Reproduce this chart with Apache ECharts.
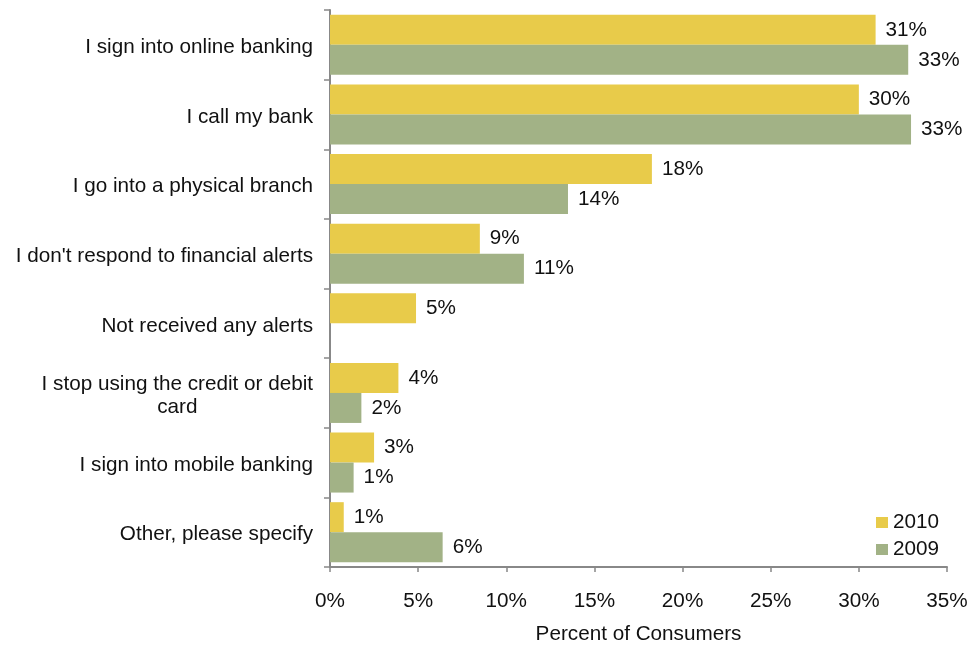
<!DOCTYPE html>
<html>
<head>
<meta charset="utf-8">
<script src="https://cdn.jsdelivr.net/npm/echarts@6/dist/echarts.min.js"></script>
<style>
  html, body { margin: 0; padding: 0; background: #fff; }
  #chart { width: 969px; height: 645px; }
</style>
</head>
<body>
<div id="chart"></div>
<script>
// Responses to a suspicious-activity alert, share of consumers by year
const categories = [
  'I sign into online banking',
  'I call my bank',
  'I go into a physical branch',
  "I don't respond to financial alerts",
  'Not received any alerts',
  'I stop using the credit or debit\ncard',
  'I sign into mobile banking',
  'Other, please specify'
];
const values2010 = [30.95, 30.0, 18.26, 8.5, 4.88, 3.88, 2.5, 0.78];
const values2009 = [32.8, 32.96, 13.5, 11.0, null, 1.78, 1.34, 6.39];
const seriesNames = ['2010', '2009'];
const xTicks = [0, 5, 10, 15, 20, 25, 30, 35];

const FONT = '"Liberation Sans", Arial, sans-serif';
const FS = 20.7;
const TEXT = '#111';
const colors = ['#E8CB4A', '#A2B286'];

const chart = echarts.init(document.getElementById('chart'));

const valueLabel = {
  show: true,
  position: 'right',
  distance: 10,
  fontFamily: FONT,
  fontSize: FS,
  color: TEXT,
  padding: [4, 0, 0, 0],
  formatter: p => (p.value == null ? '' : Math.round(p.value) + '%')
};

chart.setOption({
  animation: false,
  textStyle: { fontFamily: FONT },
  grid: {
    left: 330, right: 22, top: 10, bottom: 78,
    containLabel: false,
    outerBoundsMode: 'none'
  },
  legend: {
    orient: 'vertical',
    right: 30,
    top: 512,
    padding: 0,
    itemWidth: 12,
    itemHeight: 11,
    itemGap: 6,
    icon: 'rect',
    textStyle: { fontFamily: FONT, fontSize: FS, color: TEXT, lineHeight: 20 },
    data: seriesNames
  },
  xAxis: {
    type: 'value',
    min: xTicks[0],
    max: xTicks[xTicks.length - 1],
    interval: 5,
    name: 'Percent of Consumers',
    nameLocation: 'middle',
    nameGap: 57,
    nameTextStyle: { fontFamily: FONT, fontSize: FS, color: TEXT },
    axisLine: { show: true, lineStyle: { color: '#888', width: 2 } },
    axisTick: { show: true, length: 5, lineStyle: { color: '#888', width: 1.5 } },
    axisLabel: {
      fontFamily: FONT, fontSize: FS, color: TEXT, margin: 24,
      formatter: v => v + '%'
    },
    splitLine: { show: false }
  },
  yAxis: {
    type: 'category',
    inverse: true,
    data: categories,
    axisLine: { show: true, lineStyle: { color: '#888', width: 2 } },
    axisTick: { show: true, length: 6, lineStyle: { color: '#888', width: 1.5 } },
    axisLabel: {
      fontFamily: FONT, fontSize: FS, color: TEXT, margin: 17,
      lineHeight: 23,
      padding: [5, 0, 0, 0],
      formatter: v => {
        const parts = v.split('\n');
        if (parts.length === 1) return v;
        // wrapped labels are centred line by line
        return parts.map(s => '{c|' + s + '}').join('\n');
      },
      rich: {
        c: { fontFamily: FONT, fontSize: FS, color: TEXT, align: 'center', lineHeight: 23 }
      }
    }
  },
  series: [
    {
      name: seriesNames[0],
      type: 'bar',
      data: values2010,
      barWidth: 30,
      barGap: '0%',
      itemStyle: { color: colors[0] },
      label: valueLabel
    },
    {
      name: seriesNames[1],
      type: 'bar',
      data: values2009,
      barWidth: 30,
      barGap: '0%',
      itemStyle: { color: colors[1] },
      label: valueLabel
    }
  ]
});
</script>
</body>
</html>
